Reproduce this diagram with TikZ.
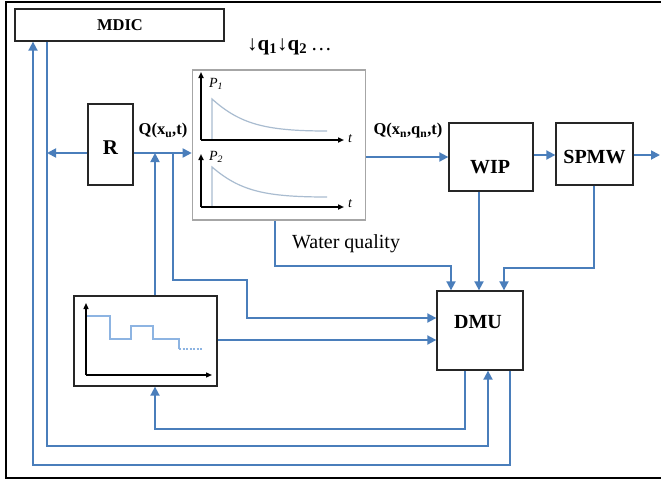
\documentclass[tikz,border=0pt]{standalone}
\usepackage{fontspec}
\setmainfont{Liberation Serif}
\usetikzlibrary{arrows.meta,calc}
\definecolor{conn}{HTML}{4A7EBB}
\definecolor{curve}{HTML}{A9BCD0}
\definecolor{stepc}{HTML}{8DB4E2}
\tikzset{
  box/.style={draw=black!85,line width=1.3pt,fill=white,inner sep=0pt},
  wire/.style={draw=conn,line width=1.8pt},
  arr/.style={wire,-{Triangle[length=9pt,width=9pt]}},
  axis/.style={draw=black,line width=1.6pt,-{Triangle[length=6pt,width=5pt]}},
  lbl/.style={font=\bfseries\fontsize{16.5}{18}\selectfont,inner sep=0pt},
  big/.style={font=\bfseries\fontsize{20}{22}\selectfont,inner sep=0pt},
  ital/.style={font=\itshape\fontsize{14}{15}\selectfont,inner sep=0pt}
}
\begin{document}
\begin{tikzpicture}[x=1pt,y=-1pt]
\useasboundingbox (0,0) rectangle (661,479);
\draw[line width=1.5pt] (665,2) -- (6,2) -- (6,478) -- (665,478);

% boxes
\node[box,minimum width=209pt,minimum height=32pt] (mdic) at (119.5,25) {};
\node[lbl] (mdict) at (120,25) {MDIC};
\node[box,minimum width=45pt,minimum height=81pt] (R) at (110.5,144.5) {};
\node[font=\bfseries\fontsize{21}{23}\selectfont,inner sep=0pt] (Rt) at (110.5,148) {R};
\node[box,draw=black!35,line width=1.6pt,minimum width=173pt,minimum height=150pt] (plot) at (279,145) {};
\node[box,minimum width=84pt,minimum height=68pt] (wip) at (491,157) {};
\node[big] (wipt) at (490,167) {WIP};
\node[box,minimum width=77pt,minimum height=62pt] (spmw) at (594.5,154) {};
\node[big] (spmwt) at (594.5,157) {SPMW};
\node[box,minimum width=86pt,minimum height=79pt] (dmu) at (480,330.5) {};
\node[big] (dmut) at (478,322) {DMU};
\node[box,minimum width=143pt,minimum height=90pt] (stp) at (145.5,341) {};

% labels
\node[lbl] (qu) at (163,131) {Q(x\textsubscript{u},t)};
\node[lbl] (qn) at (408,131) {Q(x\textsubscript{n},q\textsubscript{n},t)};
\node[font=\bfseries\fontsize{21}{23}\selectfont,inner sep=0pt,anchor=west] (qq) at (247,47) {↓q\textsubscript{1}↓q\textsubscript{2}\,\textmd{\dots}};
\node[font=\fontsize{20}{22}\selectfont,inner sep=0pt,anchor=west] (wq) at (292,244) {Water quality};

% plot contents
\draw[curve,line width=1.2pt] (212,140) -- (212,99) .. controls (240,124) and (265,131) .. (327,131);
\draw[axis] (201,140) -- (201,72);
\draw[axis] (201,140) -- (344,140);
\node[ital] (p1) at (216,84) {P\textsubscript{1}};
\node[ital] (t1) at (350,139) {t};
\draw[curve,line width=1.2pt] (212,207) -- (212,167) .. controls (240,191) and (265,197) .. (327,197);
\draw[axis] (201,207) -- (201,154);
\draw[axis] (201,207) -- (344,207);
\node[ital] (p2) at (216,157) {P\textsubscript{2}};
\node[ital] (t2) at (350,204) {t};

% step chart contents
\draw[stepc,line width=1.1pt] (86,316) -- (110,316) -- (110,339) -- (131,339) -- (131,326) -- (153,326) -- (153,339) -- (179,339) -- (179,349);
\draw[stepc,line width=1.1pt,dash pattern=on 2pt off 1.5pt] (179,349) -- (203,349);
\draw[axis,line width=1.3pt] (86,375) -- (86,303);
\draw[axis,line width=1.3pt] (86,375) -- (212,375);

% connectors
\draw[arr] ([yshift=-8.5pt]R.west) -- (47,153);
\draw[arr] ([yshift=-8.5pt]R.east) -- (plot.west |- 0,153);
\draw[arr] (stp.north -| 155,0) -- (155,153);
\draw[arr] (173,153) -- (173,280) -- (247,280) -- (247,318) -- (dmu.west |- 0,318);
\draw[arr] ([yshift=-12pt]plot.east) -- (wip.west |- 0,157);
\draw[arr] (wip.east |- 0,155) -- (spmw.west |- 0,155);
\draw[arr] (spmw.east |- 0,155) -- (660,155);
\draw[arr] (plot.south -| 275,0) -- (275,266) -- (451,266) -- (dmu.north -| 451,0);
\draw[arr] (wip.south -| 479,0) -- (dmu.north -| 479,0);
\draw[arr] (spmw.south -| 594,0) -- (594,268) -- (504,268) -- (dmu.north -| 504,0);
\draw[arr] (stp.east |- 0,340) -- (dmu.west |- 0,340);
\draw[arr] (dmu.south -| 465,0) -- (465,429) -- (155,429) -- (stp.south -| 155,0);
\draw[arr] (mdic.south -| 47,0) -- (47,446) -- (488,446) -- (dmu.south -| 488,0);
\draw[arr] (dmu.south -| 510,0) -- (510,465) -- (33,465) -- (mdic.south -| 33,0);
\end{tikzpicture}
\end{document}
